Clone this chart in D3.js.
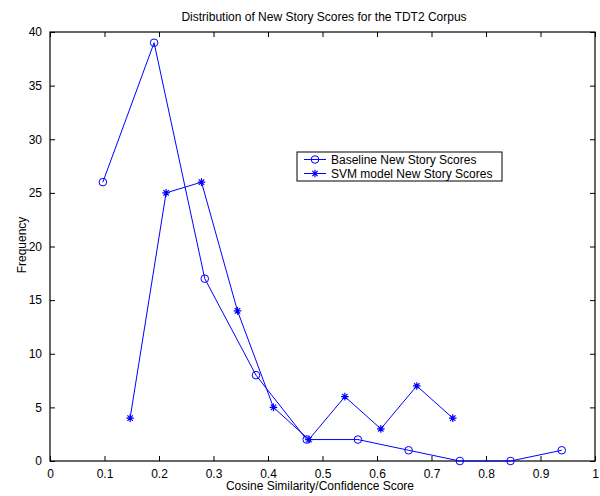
<html>
<head>
<script src="https://d3js.org/d3.v7.min.js"></script>
<style>
body { margin: 0; background: #fff; font-family: 'Liberation Sans', Arial, Helvetica, sans-serif; }
</style>
</head>
<body>
<svg width="600" height="496"></svg>
<script>
// baseline (circles)
var baseX = [0.097, 0.191, 0.284, 0.378, 0.471, 0.565, 0.658, 0.752, 0.845, 0.939];
var baseY = [26, 39, 17, 8, 2, 2, 1, 0, 0, 1];
// svm (stars)
var svmX = [0.147, 0.213, 0.278, 0.344, 0.41, 0.475, 0.541, 0.607, 0.673, 0.739];
var svmY = [4, 25, 26, 14, 5, 2, 6, 3, 7, 4];
var xTicks = [0, 0.1, 0.2, 0.3, 0.4, 0.5, 0.6, 0.7, 0.8, 0.9, 1];
var yTicks = [0, 5, 10, 15, 20, 25, 30, 35, 40];
var labels = ["Baseline New Story Scores", "SVM model New Story Scores"];

var svg = d3.select("svg");
var x = d3.scaleLinear().domain([0, 1]).range([50, 595]);
var y = d3.scaleLinear().domain([0, 40]).range([461, 32]);
var blue = "#0000ff";
var fs = 12;

// frame
svg.append("rect").attr("x", 50).attr("y", 32).attr("width", 545).attr("height", 429)
	.attr("fill", "none").attr("stroke", "#000").attr("stroke-width", 1.2);

// axes, ticks pointing inward
var fmt = function(d) { return d3.format("")(d); };
svg.append("g").attr("transform", "translate(0,461)")
	.call(d3.axisBottom(x).tickValues(xTicks).tickSizeInner(-5).tickSizeOuter(0).tickPadding(8).tickFormat(fmt));
svg.append("g").attr("transform", "translate(0,32)")
	.call(d3.axisTop(x).tickValues(xTicks).tickSizeInner(-5).tickSizeOuter(0).tickFormat(""));
svg.append("g").attr("transform", "translate(50,0)")
	.call(d3.axisLeft(y).tickValues(yTicks).tickSizeInner(-5).tickSizeOuter(0).tickPadding(8));
svg.append("g").attr("transform", "translate(595,0)")
	.call(d3.axisRight(y).tickValues(yTicks).tickSizeInner(-5).tickSizeOuter(0).tickFormat(""));
svg.selectAll(".domain").remove();
svg.selectAll(".tick text").attr("font-size", fs).attr("font-family", "'Liberation Sans', Arial, sans-serif").attr("fill", "#000");

// titles
svg.append("text").attr("x", 324).attr("y", 21).attr("text-anchor", "middle")
	.attr("font-size", fs).text("Distribution of New Story Scores for the TDT2 Corpus");
svg.append("text").attr("x", 320).attr("y", 490).attr("text-anchor", "middle")
	.attr("font-size", fs).text("Cosine Similarity/Confidence Score");
svg.append("text").attr("transform", "translate(26,245) rotate(-90)").attr("text-anchor", "middle")
	.attr("font-size", fs).text("Frequency");

var line = d3.line().x(function(d) { return x(d[0]); }).y(function(d) { return y(d[1]); });
var base = d3.zip(baseX, baseY);
var svm = d3.zip(svmX, svmY);

svg.append("path").attr("d", line(base)).attr("fill", "none").attr("stroke", blue).attr("stroke-width", 1);
svg.append("path").attr("d", line(svm)).attr("fill", "none").attr("stroke", blue).attr("stroke-width", 1);

function circle(g, cx, cy) {
	g.append("circle").attr("cx", cx).attr("cy", cy).attr("r", 3.8)
		.attr("fill", "none").attr("stroke", blue).attr("stroke-width", 1);
}
function star(g, cx, cy) {
	var s = 3.8, d = 2.7;
	var p = "M" + (cx - s) + "," + cy + "H" + (cx + s) +
		"M" + cx + "," + (cy - s) + "V" + (cy + s) +
		"M" + (cx - d) + "," + (cy - d) + "L" + (cx + d) + "," + (cy + d) +
		"M" + (cx - d) + "," + (cy + d) + "L" + (cx + d) + "," + (cy - d);
	g.append("path").attr("d", p).attr("stroke", blue).attr("stroke-width", 1.2).attr("fill", "none");
}

base.forEach(function(d) { circle(svg, x(d[0]), y(d[1])); });
svm.forEach(function(d) { star(svg, x(d[0]), y(d[1])); });

// legend
var lg = svg.append("g");
lg.append("rect").attr("x", 297).attr("y", 152).attr("width", 205).attr("height", 29)
	.attr("fill", "#fff").attr("stroke", "#000").attr("stroke-width", 1);
[0, 1].forEach(function(i) {
	var ly = 159.5 + i * 14;
	lg.append("line").attr("x1", 304).attr("x2", 326).attr("y1", ly).attr("y2", ly)
		.attr("stroke", blue).attr("stroke-width", 1);
	if (i === 0) circle(lg, 315, ly); else star(lg, 315, ly);
	lg.append("text").attr("x", 331).attr("y", ly + 4).attr("font-size", fs).text(labels[i]);
});
</script>
</body>
</html>
